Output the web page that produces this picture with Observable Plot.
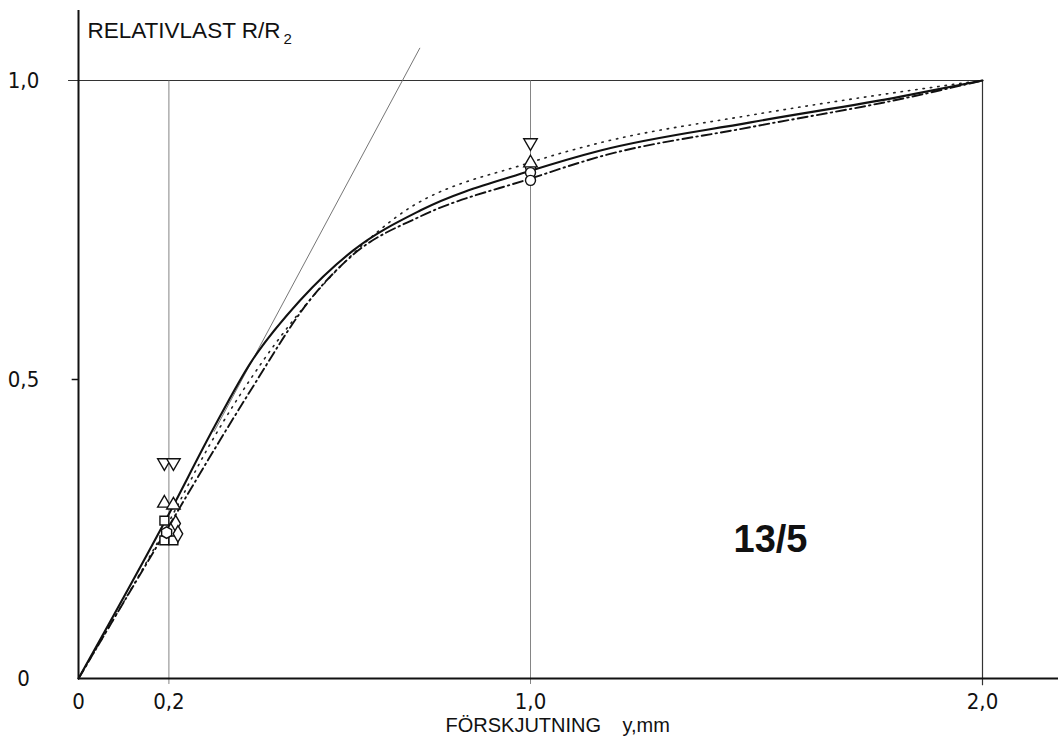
<!DOCTYPE html>
<html>
<head>
<meta charset="utf-8">
<script src="https://cdn.jsdelivr.net/npm/d3@7"></script>
<script src="https://cdn.jsdelivr.net/npm/@observablehq/plot@0.6"></script>
<style>
  html, body { margin: 0; padding: 0; background: #fff; }
  #chart svg { display: block; }
</style>
</head>
<body>
<div id="chart"></div>
<script>
// ---- data ----
const xTicks = [0, 0.2, 1.0, 2.0];
const xTickLabels = ["0", "0,2", "1,0", "2,0"];
const yTicks = [0, 0.5, 1.0];
const yTickLabels = ["0", "0,5", "1,0"];
const gridX = [0.2, 1.0];
const gridXEnd = [2.0];

const solidX = [0, 0.2, 0.3, 0.38, 0.49, 0.608, 0.757, 1.0, 1.155, 1.487, 1.819, 2.0];
const solidY = [0, 0.275, 0.42, 0.527, 0.632, 0.716, 0.783, 0.849, 0.883, 0.93, 0.973, 1.0];

const dottedX = [0, 0.2, 0.292, 0.409, 0.542, 0.7, 1.0, 1.155, 1.487, 1.8, 2.0];
const dottedY = [0, 0.262, 0.393, 0.532, 0.659, 0.77, 0.863, 0.896, 0.942, 0.979, 1.0];

const dashDotX = [0, 0.2, 0.303, 0.381, 0.513, 0.608, 0.757, 1.0, 1.155, 1.487, 1.819, 2.0];
const dashDotY = [0, 0.255, 0.386, 0.482, 0.634, 0.709, 0.773, 0.836, 0.873, 0.922, 0.969, 1.0];

const tangentX = [0.3, 0.755];
const tangentY = [0.413, 1.054];

const markerX = [0.19, 0.21, 0.19, 0.21, 0.19, 0.215, 0.195, 0.22, 0.19, 0.21, 1.0, 1.0, 1.0, 1.0, 1.0];
const markerY = [0.361, 0.361, 0.293, 0.29, 0.264, 0.259, 0.244, 0.242, 0.231, 0.231, 0.896, 0.862, 0.855, 0.846, 0.833];
const markerShape = ["down", "down", "up", "up", "square", "diamond", "hexagon", "diamond", "square", "square", "down", "up", "circle", "circle", "circle"];

const yLabel = "RELATIVLAST R/R";
const yLabelSub = "2";
const xLabel = "FÖRSKJUTNING";
const xLabelUnit = "y,mm";
const panelLabel = "13/5";

// ---- build tables ----
const solid = solidX.map((x, i) => ({x, y: solidY[i]}));
const dotted = dottedX.map((x, i) => ({x, y: dottedY[i]}));
const dashDot = dashDotX.map((x, i) => ({x, y: dashDotY[i]}));
const tangent = tangentX.map((x, i) => ({x, y: tangentY[i]}));
const markers = markerX.map((x, i) => ({x, y: markerY[i], s: markerShape[i]}));
const xTickData = xTicks.map((v, i) => ({v, t: xTickLabels[i]}));
const yTickData = yTicks.map((v, i) => ({v, t: yTickLabels[i]}));

const numFont = "'Liberation Sans Narrow', 'DejaVu Sans Condensed', 'Liberation Sans', sans-serif";
const txtFont = "'Liberation Sans', Arial, sans-serif";

const shapeMark = (name, symbol, rotate) =>
  Plot.dot(markers.filter(d => d.s === name), {
    x: "x", y: "y", symbol, rotate, r: 5,
    fill: "white", stroke: "#111", strokeWidth: 1.4
  });

const chart = Plot.plot({
  width: 1058,
  height: 746,
  margin: 0,
  style: {background: "#fff", overflow: "visible"},
  x: {domain: [0, 2], range: [78, 982], axis: null},
  y: {domain: [0, 1], range: [678, 80], axis: null},
  marks: [
    // grid
    Plot.ruleY([1.0], {x1: -0.022, x2: 2.0, stroke: "#333", strokeWidth: 1}),
    Plot.ruleX(gridX, {y1: -0.01, y2: 1.0, stroke: "#666", strokeWidth: 0.8}),
    Plot.ruleX(gridXEnd, {y1: -0.012, y2: 1.0, stroke: "#333", strokeWidth: 1.2}),
    Plot.ruleY([0.5], {x1: -0.014, x2: 0, stroke: "#111", strokeWidth: 1.5}),
    // axes
    Plot.ruleY([0], {x1: 0, x2: 2.18, stroke: "#111", strokeWidth: 2}),
    Plot.ruleX([0], {y1: 0, y2: 1.117, stroke: "#111", strokeWidth: 2}),
    // tangent
    Plot.line(tangent, {x: "x", y: "y", stroke: "#666", strokeWidth: 0.9}),
    // curves
    Plot.line(dotted, {x: "x", y: "y", curve: "monotone-x", stroke: "#222", strokeWidth: 1.6, strokeDasharray: "1.4,6", strokeLinecap: "round"}),
    Plot.line(dashDot, {x: "x", y: "y", curve: "monotone-x", stroke: "#111", strokeWidth: 1.9, strokeDasharray: "10,4,1.5,4"}),
    Plot.line(solid, {x: "x", y: "y", curve: "monotone-x", stroke: "#111", strokeWidth: 2.1}),
    // markers
    shapeMark("square", "square", 0),
    shapeMark("diamond", "diamond", 0),
    shapeMark("hexagon", "hexagon", 0),
    shapeMark("circle", "circle", 0),
    shapeMark("up", "triangle", 0),
    shapeMark("down", "triangle", 180),
    // tick labels
    Plot.text(xTickData, {x: "v", y: 0, text: "t", dy: 23, fontSize: 22, fontFamily: numFont, fill: "#111"}),
    Plot.text(yTickData, {x: 0, y: "v", text: "t", dx: -55, fontSize: 22, fontFamily: numFont, fill: "#111"}),
    // axis titles
    Plot.text([yLabel], {x: 0, y: 1.0836, text: d => d, dx: 9, textAnchor: "start", fontSize: 22.5, fontFamily: txtFont, fill: "#111"}),
    Plot.text([yLabelSub], {x: 0, y: 1.0836, text: d => d, dx: 205, dy: 9, textAnchor: "start", fontSize: 15, fontFamily: txtFont, fill: "#111"}),
    Plot.text([xLabel], {x: 1.0, y: 0, text: d => d, dx: -85, dy: 47, textAnchor: "start", fontSize: 20, fontFamily: txtFont, fill: "#111"}),
    Plot.text([xLabelUnit], {x: 1.0, y: 0, text: d => d, dx: 92, dy: 47, textAnchor: "start", fontSize: 20, fontFamily: txtFont, fill: "#111"}),
    // panel label
    Plot.text([panelLabel], {x: 1.531, y: 0.232, text: d => d, fontSize: 38, fontWeight: "bold", fontFamily: txtFont, fill: "#111"})
  ]
});

document.getElementById("chart").appendChild(chart);
</script>
</body>
</html>
